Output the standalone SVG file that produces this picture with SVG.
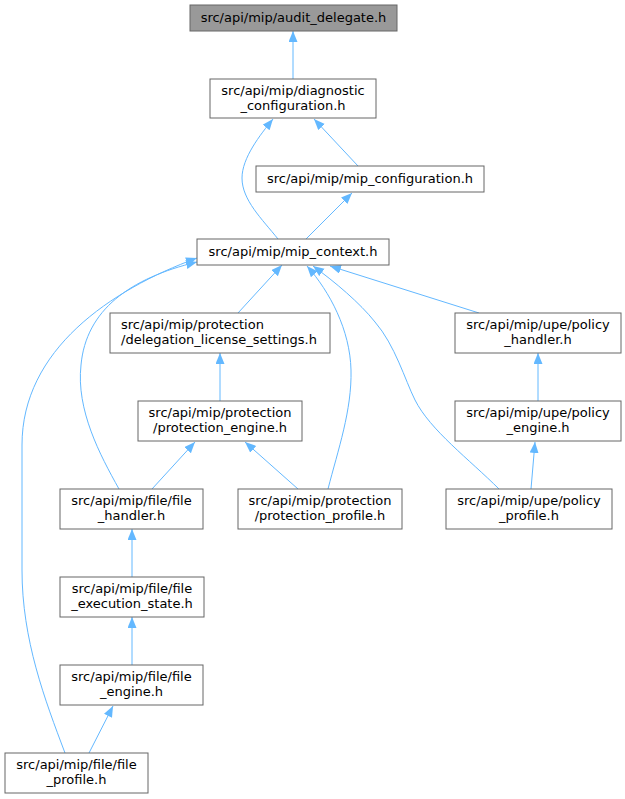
<svg xmlns="http://www.w3.org/2000/svg" width="625" height="799" viewBox="0 0 625 799">
<style>
.n rect{fill:#ffffff;stroke:#666666;stroke-width:1}
.n.root rect{fill:#999999}
.n text{font-family:"DejaVu Sans","Liberation Sans",sans-serif;font-size:13px;fill:#000000;text-anchor:middle}
.n text.l{text-anchor:start}
.e path{fill:none;stroke:#63b8ff;stroke-width:1;marker-end:url(#ah)}
</style>
<defs>
<marker id="ah" markerWidth="12" markerHeight="10" refX="11" refY="4.5" orient="auto" markerUnits="userSpaceOnUse">
<path d="M0,0 L11,4.5 L0,9 z" fill="#63b8ff" stroke="none"/>
</marker>
</defs>
<rect width="625" height="799" fill="#ffffff"/>
<g id="edges" class="e">
<path d="M293,79 L293,31"/>
<path d="M278,239 C262,219 242,200 242,178 C242,158 260,135 273,119"/>
<path d="M358,166 L314,119"/>
<path d="M306,239 L352,193"/>
<path d="M119,489 C100,455 76,410 81,365 C86,310 130,278 197,262"/>
<path d="M65,753 C45,700 22,640 22,570 L22,445 C22,350 110,290 197,258"/>
<path d="M238,313 L282,265"/>
<path d="M328,489 C338,450 352,410 351,370 C350,330 330,292 307,266"/>
<path d="M499,489 C470,460 430,430 415,400 C405,380 395,345 375,322 C360,303 335,282 313,266"/>
<path d="M479,313 L330,266"/>
<path d="M220,401 L220,353"/>
<path d="M152,489 L195,442"/>
<path d="M298,489 L245,442"/>
<path d="M538,401 L538,353"/>
<path d="M531,489 L535,442"/>
<path d="M132,577 L132,529"/>
<path d="M132,665 L132,617"/>
<path d="M89,753 L113,706"/>
</g>
<g id="audit_delegate" class="n root"><rect x="190" y="5" width="207" height="26"/><text x="293.5" y="22">src/api/mip/audit_delegate.h</text></g>
<g id="diagnostic_configuration" class="n"><rect x="210" y="79" width="166" height="39"/><text x="293" y="95">src/api/mip/diagnostic</text><text x="293" y="109.5">_configuration.h</text></g>
<g id="mip_configuration" class="n"><rect x="256" y="166" width="228" height="26"/><text x="370" y="182.5">src/api/mip/mip_configuration.h</text></g>
<g id="mip_context" class="n"><rect x="197" y="239" width="192" height="26"/><text x="293" y="255.5">src/api/mip/mip_context.h</text></g>
<g id="delegation_license_settings" class="n"><rect x="110" y="313" width="220" height="40"/><text class="l" x="121" y="329">src/api/mip/protection</text><text class="l" x="121" y="343.5">/delegation_license_settings.h</text></g>
<g id="policy_handler" class="n"><rect x="455" y="313" width="166" height="40"/><text x="538" y="329">src/api/mip/upe/policy</text><text x="538" y="343.5">_handler.h</text></g>
<g id="protection_engine" class="n"><rect x="138" y="401" width="164" height="40"/><text x="220" y="417">src/api/mip/protection</text><text x="220" y="431.5">/protection_engine.h</text></g>
<g id="policy_engine" class="n"><rect x="455" y="401" width="166" height="40"/><text x="538" y="417">src/api/mip/upe/policy</text><text x="538" y="431.5">_engine.h</text></g>
<g id="file_handler" class="n"><rect x="60" y="489" width="143" height="40"/><text x="131.5" y="505">src/api/mip/file/file</text><text x="131.5" y="519.5">_handler.h</text></g>
<g id="protection_profile" class="n"><rect x="238" y="489" width="164" height="40"/><text x="320" y="505">src/api/mip/protection</text><text x="320" y="519.5">/protection_profile.h</text></g>
<g id="policy_profile" class="n"><rect x="446" y="489" width="166" height="40"/><text x="529" y="505">src/api/mip/upe/policy</text><text x="529" y="519.5">_profile.h</text></g>
<g id="file_execution_state" class="n"><rect x="60" y="577" width="144" height="40"/><text x="132" y="593">src/api/mip/file/file</text><text x="132" y="607.5">_execution_state.h</text></g>
<g id="file_engine" class="n"><rect x="60" y="665" width="143" height="40"/><text x="131.5" y="681">src/api/mip/file/file</text><text x="131.5" y="695.5">_engine.h</text></g>
<g id="file_profile" class="n"><rect x="5" y="753" width="143" height="40"/><text x="76.5" y="769">src/api/mip/file/file</text><text x="76.5" y="783.5">_profile.h</text></g>
</svg>
